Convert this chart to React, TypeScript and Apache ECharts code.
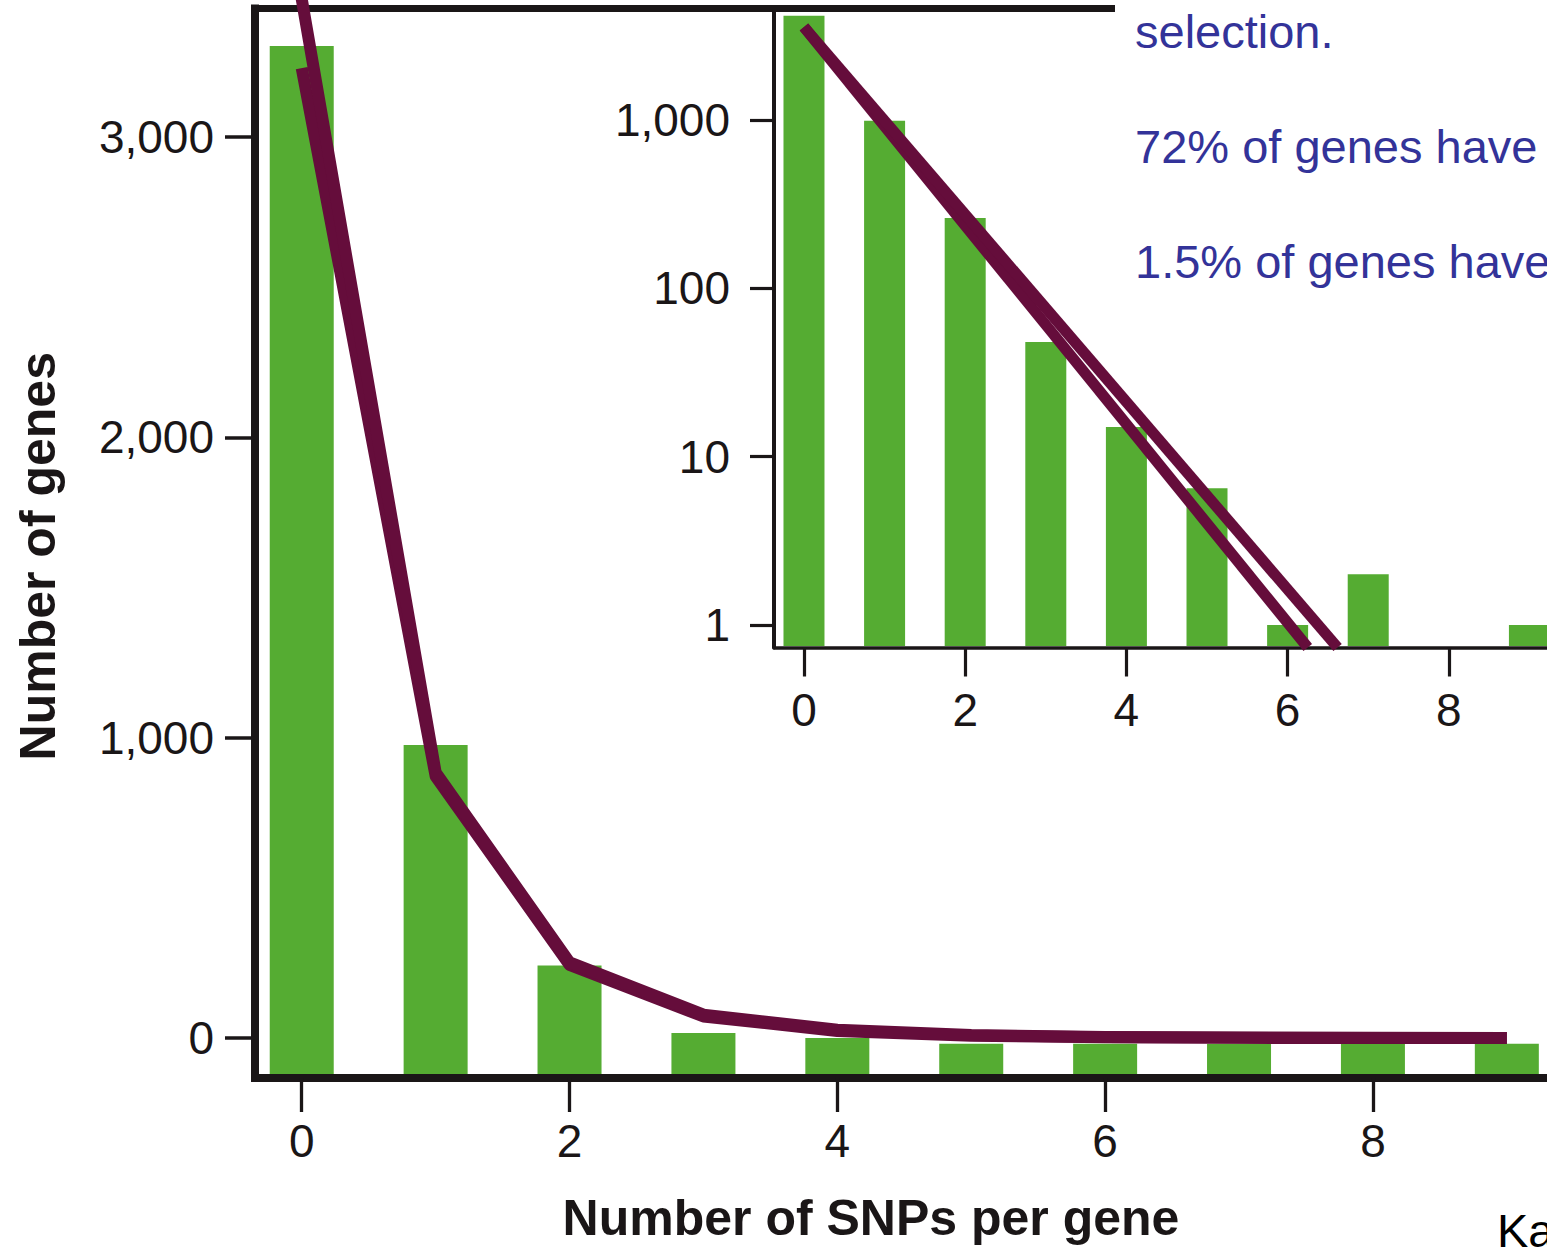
import React, { useEffect, useRef } from 'react';
import * as echarts from 'echarts';

// ---- data ----
const snpCounts = [0, 1, 2, 3, 4, 5, 6, 7, 8, 9];
const geneCounts = [3304, 976, 242, 17, 0, -19, -19, -19, -19, -19];
const fitUpper = [3460, 885, 252, 78, 28, 10, 4, 2, 1, 0];
const fitLower = [3230, 872, 244, 72, 24, 8, 3, 1, 0, 0];
const mainTicksX = [0, 2, 4, 6, 8];
const mainTicksY = [0, 1000, 2000, 3000];

const logGeneCounts: (number | null)[] = [4170, 990, 262, 48, 15, 6.5, 1, 2, null, 1];
const logFitX = [0, 6.25];
const logFitXAlt = [0, 6.62];
const logFitY = [3574, 0.735];
const logTicksX = [0, 2, 4, 6, 8];
const logTicksY = [1, 10, 100, 1000];

const noteLines = ['selection.', '72% of genes have', '1.5% of genes have'];
const creditText = 'Ka';

const GREEN = '#55ac32';
const PURPLE = '#650d3b';
const INK = '#1a1617';
const BLUE = '#333399';
const FONT = '"Liberation Sans", Arial, Helvetica, sans-serif';

const fmt = (v: number) => Number(v).toLocaleString('en-US');

export default function App() {
  const ref = useRef<HTMLDivElement>(null);
  useEffect(() => {
    if (!ref.current) return;
    const chart = echarts.init(ref.current, null, { renderer: 'svg' });
    const tickLabel = { fontSize: 46, color: INK, fontFamily: FONT };
    const option: any = {
      animation: false,
      backgroundColor: '#ffffff',
      grid: [
        { left: 255, top: 8.5, right: 0, bottom: 167 },
        { left: 774, top: 12, right: 0, bottom: 600.5 },
      ],
      xAxis: [
        {
          type: 'value', gridIndex: 0, min: -0.349, max: 9.3,
          axisLine: { show: true, onZero: false, lineStyle: { color: INK, width: 8, cap: 'square' } },
          axisTick: { show: true, customValues: mainTicksX, length: 34, lineStyle: { color: INK, width: 3.3 } },
          axisLabel: { show: true, customValues: mainTicksX, margin: 40, ...tickLabel },
          splitLine: { show: false },
          name: 'Number of SNPs per gene', nameLocation: 'middle', nameGap: 115,
          nameTextStyle: { fontSize: 50, fontWeight: 'bold', color: INK, fontFamily: FONT, padding: [0, 60, 0, 0] },
        },
        {
          type: 'value', gridIndex: 0, position: 'top', min: -0.349, max: 9.3,
          axisLine: { show: true, onZero: false, lineStyle: { color: INK, width: 7, cap: 'square' } },
          axisTick: { show: false }, axisLabel: { show: false }, splitLine: { show: false },
        },
        {
          type: 'value', gridIndex: 1, min: -0.372, max: 9.218,
          axisLine: { show: true, onZero: false, lineStyle: { color: INK, width: 3.5 } },
          axisTick: { show: true, customValues: logTicksX, length: 29, lineStyle: { color: INK, width: 3.2 } },
          axisLabel: { show: true, customValues: logTicksX, margin: 39, ...tickLabel },
          splitLine: { show: false },
        },
      ],
      yAxis: [
        {
          type: 'value', gridIndex: 0, min: -132.8, max: 3428.5, startValue: -119.5,
          axisLine: { show: true, onZero: false, lineStyle: { color: INK, width: 8, cap: 'square' } },
          axisTick: { show: true, customValues: mainTicksY, length: 30, lineStyle: { color: INK, width: 3.5 } },
          axisLabel: { show: true, customValues: mainTicksY, margin: 41, formatter: fmt, ...tickLabel },
          splitLine: { show: false },
          name: 'Number of genes', nameLocation: 'middle', nameGap: 192, nameRotate: 90,
          nameTextStyle: { fontSize: 50, fontWeight: 'bold', color: INK, fontFamily: FONT, padding: [0, 26, 0, 0] },
        },
        {
          type: 'log', logBase: 10, gridIndex: 1, min: 0.735, max: 4388, startValue: 0.75,
          axisLine: { show: true, onZero: false, lineStyle: { color: INK, width: 4 } },
          axisTick: { show: true, customValues: logTicksY, length: 24, lineStyle: { color: INK, width: 3.2 } },
          axisLabel: { show: true, customValues: logTicksY, margin: 44, formatter: fmt, ...tickLabel },
          splitLine: { show: false },
        },
      ],
      series: [
        {
          type: 'bar', xAxisIndex: 0, yAxisIndex: 0, barWidth: 64,
          itemStyle: { color: GREEN },
          data: snpCounts.map((x, i) => [x, geneCounts[i]]),
        },
        {
          type: 'line', xAxisIndex: 0, yAxisIndex: 0, symbol: 'none', clip: false,
          lineStyle: { color: PURPLE, width: 12, join: 'round' },
          data: snpCounts.map((x, i) => [x, fitLower[i]]),
        },
        {
          type: 'line', xAxisIndex: 0, yAxisIndex: 0, symbol: 'none', clip: false,
          lineStyle: { color: PURPLE, width: 12, join: 'round' },
          data: snpCounts.map((x, i) => [x, fitUpper[i]]),
        },
        {
          type: 'bar', xAxisIndex: 2, yAxisIndex: 1, barWidth: 41,
          itemStyle: { color: GREEN },
          data: snpCounts.map((x, i) => [x, logGeneCounts[i]]),
        },
        {
          type: 'line', xAxisIndex: 2, yAxisIndex: 1, symbol: 'none', clip: false,
          lineStyle: { color: PURPLE, width: 11 },
          data: logFitX.map((x, i) => [x, logFitY[i]]),
        },
        {
          type: 'line', xAxisIndex: 2, yAxisIndex: 1, symbol: 'none', clip: false,
          lineStyle: { color: PURPLE, width: 11 },
          data: logFitXAlt.map((x, i) => [x, logFitY[i]]),
        },
      ],
      graphic: [
        { type: 'rect', z: 50, shape: { x: 1115, y: 0, width: 432, height: 16 }, style: { fill: '#ffffff' } },
        ...noteLines.map((t, i) => ({
          type: 'text', z: 60, x: 1135, y: 31.7 + i * 115,
          style: { text: t, fill: BLUE, fontSize: 47, fontFamily: FONT, align: 'left', verticalAlign: 'middle' },
        })),
        {
          type: 'text', z: 60, x: 1497, y: 1230,
          style: { text: creditText, fill: '#000000', fontSize: 47, fontFamily: FONT, align: 'left', verticalAlign: 'middle' },
        },
      ],
    };
    chart.setOption(option);
    return () => chart.dispose();
  }, []);
  return (
    <div
      ref={ref}
      style={{ position: 'absolute', left: 0, top: 0, width: 1547, height: 1248 }}
    />
  );
}
